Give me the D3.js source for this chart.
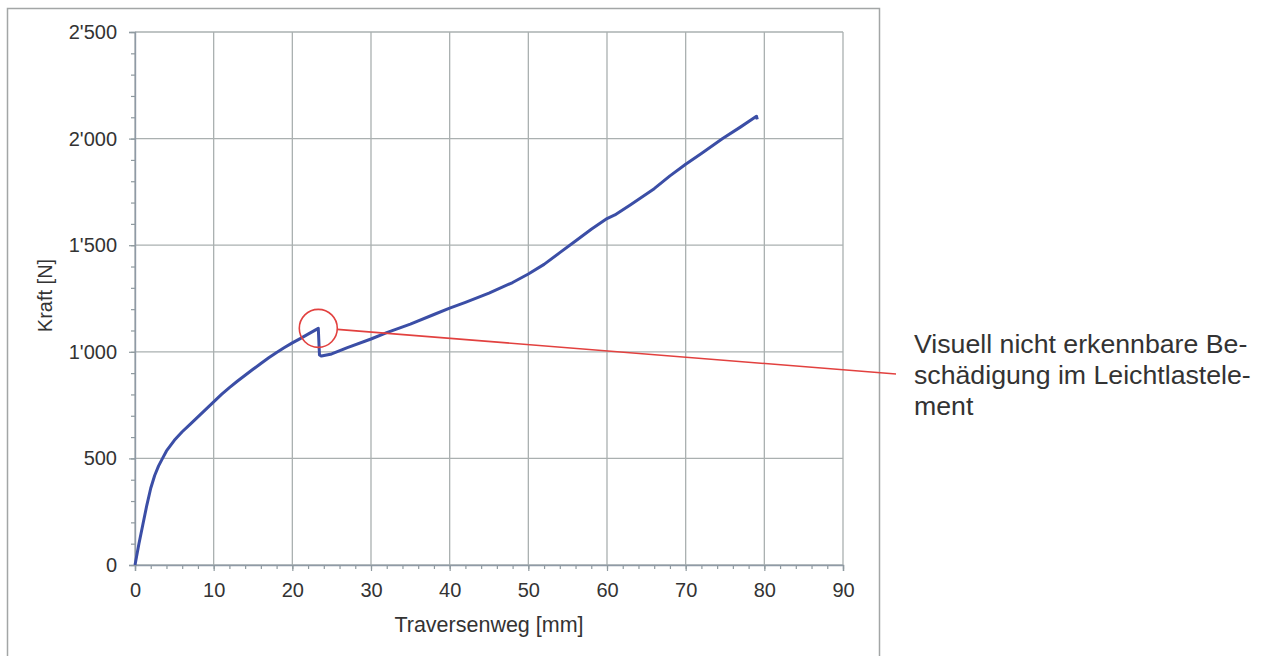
<!DOCTYPE html>
<html lang="de">
<head>
<meta charset="utf-8">
<script src="https://cdn.jsdelivr.net/npm/d3@7"></script>
<style>
  html, body { margin: 0; padding: 0; background: #fff; }
  svg { display: block; font-family: "Liberation Sans", Arial, sans-serif; }
</style>
</head>
<body>
<svg id="chart" width="1267" height="656"></svg>
<script>
// Force–displacement curve (Traversenweg in mm, Kraft in N)
const weg = [0, 0.5, 1.0, 1.5, 2.0, 2.5, 3.0, 3.5, 4.0, 5, 6, 7, 8, 9, 10, 11, 12, 13, 14, 15, 16, 17, 18, 19, 20, 21, 22, 23.3,
             23.45, 23.7, 25, 27, 30, 32, 35, 38, 40, 42, 45, 48, 50, 52, 54, 56, 58, 60, 61, 63, 66, 68, 70, 72, 74.7, 77, 79, 79.1];
const kraft = [0, 100, 190, 280, 360, 420, 465, 500, 535, 585, 625, 660, 695, 730, 765, 800, 832, 862, 890, 918, 945, 972, 997, 1020, 1042, 1062, 1083, 1110,
               985, 980, 990, 1020, 1060, 1090, 1130, 1175, 1205, 1232, 1275, 1325, 1365, 1410, 1465, 1520, 1575, 1625, 1642, 1690, 1765, 1825, 1880, 1930, 2000, 2055, 2105, 2090];

const xTicks = [0, 10, 20, 30, 40, 50, 60, 70, 80, 90];
const yTicks = [0, 500, 1000, 1500, 2000, 2500];
const xMinor = d3.range(0, 90.01, 2);
const yMinor = d3.range(0, 2500.01, 100);

// Damage marker at the load peak and its description
const markX = [23.3];
const markF = [1110];
const noteLines = ["Visuell nicht erkennbare Be-", "schädigung im Leichtlastele-", "ment"];

const svg = d3.select("#chart");
const m = { left: 135, right: 843, top: 32, bottom: 565 };

const x = d3.scaleLinear().domain([0, 90]).range([m.left, m.right]);
const y = d3.scaleLinear().domain([0, 2500]).range([m.bottom, m.top]);

// thousands separator with apostrophe
const fmt = v => d3.format(",")(v).replace(/,/g, "'");

// outer frame
svg.append("rect")
  .attr("x", 7.5).attr("y", 8.5).attr("width", 872).attr("height", 660)
  .attr("fill", "none").attr("stroke", "#a3a6a6").attr("stroke-width", 1.5);

// grid
const grid = svg.append("g").attr("stroke", "#aab0b0").attr("stroke-width", 1.3);
grid.selectAll(".gx").data(xTicks).join("line")
  .attr("x1", d => x(d)).attr("x2", d => x(d))
  .attr("y1", m.top).attr("y2", m.bottom);
grid.selectAll(".gy").data(yTicks).join("line")
  .attr("x1", m.left).attr("x2", m.right)
  .attr("y1", d => y(d)).attr("y2", d => y(d));

// x axis: minor ticks, then major ticks with labels
svg.append("g").attr("transform", `translate(0,${m.bottom})`)
  .call(d3.axisBottom(x).tickValues(xMinor).tickSize(4).tickFormat(""))
  .call(g => g.select(".domain").remove())
  .call(g => g.selectAll("line").attr("stroke", "#8f9a9f").attr("stroke-width", 1.2));
svg.append("g").attr("transform", `translate(0,${m.bottom})`)
  .call(d3.axisBottom(x).tickValues(xTicks).tickSize(6).tickPadding(12).tickFormat(d3.format("d")))
  .call(g => g.select(".domain").attr("stroke", "#8f9aa6").attr("stroke-width", 1.4))
  .call(g => g.selectAll("line").attr("stroke", "#8f9a9f").attr("stroke-width", 1.2))
  .call(g => g.selectAll("text").attr("font-size", 20).attr("fill", "#333")
    .attr("font-family", "Liberation Sans, Arial, sans-serif"));

// y axis: minor ticks, then major ticks with labels
svg.append("g").attr("transform", `translate(${m.left},0)`)
  .call(d3.axisLeft(y).tickValues(yMinor).tickSize(4).tickFormat(""))
  .call(g => g.select(".domain").remove())
  .call(g => g.selectAll("line").attr("stroke", "#8f9a9f").attr("stroke-width", 1.2));
svg.append("g").attr("transform", `translate(${m.left},0)`)
  .call(d3.axisLeft(y).tickValues(yTicks).tickSize(6).tickPadding(12).tickFormat(fmt))
  .call(g => g.select(".domain").attr("stroke", "#8f9aa6").attr("stroke-width", 1.4))
  .call(g => g.selectAll("line").attr("stroke", "#8f9a9f").attr("stroke-width", 1.2))
  .call(g => g.selectAll("text").attr("font-size", 20).attr("fill", "#333")
    .attr("font-family", "Liberation Sans, Arial, sans-serif"));

// axis titles
svg.append("text")
  .attr("x", (m.left + m.right) / 2).attr("y", 632)
  .attr("text-anchor", "middle").attr("font-size", 21.5).attr("fill", "#333")
  .text("Traversenweg [mm]");
svg.append("text")
  .attr("transform", `translate(52,${(m.top + m.bottom) / 2 - 3}) rotate(-90)`)
  .attr("text-anchor", "middle").attr("font-size", 20).attr("fill", "#333")
  .text("Kraft [N]");

// measured curve
const line = d3.line().x((d, i) => x(weg[i])).y(d => y(d));
svg.append("path")
  .datum(kraft)
  .attr("d", line)
  .attr("fill", "none")
  .attr("stroke", "#3b4ea6")
  .attr("stroke-width", 3)
  .attr("stroke-linejoin", "round");

// annotation: circle at peak, leader line, note text
const cx = x(markX[0]), cy = y(markF[0]);
const r = 19;
const noteX = 914, noteY = 353, lineGap = 31;
svg.append("circle")
  .attr("cx", cx).attr("cy", cy).attr("r", r)
  .attr("fill", "none").attr("stroke", "#e2413f").attr("stroke-width", 1.6);
svg.append("line")
  .attr("x1", cx + r).attr("y1", cy + 1)
  .attr("x2", noteX - 18).attr("y2", noteY + 21)
  .attr("stroke", "#e2413f").attr("stroke-width", 1.6);
svg.append("g").selectAll("text").data(noteLines).join("text")
  .attr("x", noteX).attr("y", (d, i) => noteY + i * lineGap)
  .attr("font-size", 26.7).attr("fill", "#333")
  .text(d => d);
</script>
</body>
</html>
